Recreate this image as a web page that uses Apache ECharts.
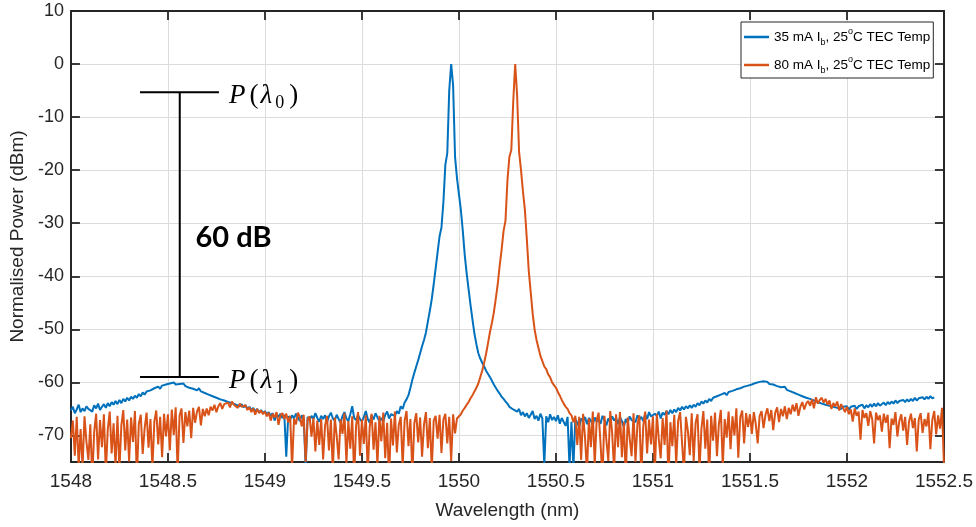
<!DOCTYPE html>
<html><head><meta charset="utf-8">
<script src="https://cdn.jsdelivr.net/npm/echarts@6/dist/echarts.min.js"></script>
<style>html,body{margin:0;padding:0;background:#fff}#c{width:976px;height:527px}</style>
</head><body><div id="c"></div>
<script>
// ---- data ----
const WL_START = 1548.00;   // nm, first sample
const WL_STEP = 0.01;       // nm, sample spacing
const seriesNames = ['35 mA I_b, 25°C TEC Temp', '80 mA I_b, 25°C TEC Temp'];
const xTickInterval = 0.5;
const yTickValues = [-70, -60, -50, -40, -30, -20, -10, 0, 10];

const power35mA = [
-65.3,-64.6,-65.8,-65.1,-64.2,-65.6,-64.9,-65.4,-64.5,-65.0,
-64.8,-65.5,-64.3,-64.9,-64.0,-65.2,-64.6,-64.1,-64.8,-63.9,
-64.5,-63.7,-64.2,-63.5,-64.1,-63.3,-63.9,-63.1,-63.6,-62.9,
-63.4,-62.7,-63.1,-62.5,-62.9,-62.2,-62.6,-61.9,-62.3,-61.7,
-62.0,-61.5,-61.8,-61.1,-61.4,-60.8,-61.2,-60.6,-60.9,-60.4,
-60.7,-60.2,-60.5,-60.0,-60.4,-60.1,-60.3,-60.6,-60.2,-60.7,
-60.5,-61.0,-60.7,-61.2,-60.9,-61.5,-61.1,-61.7,-61.4,-62.0,
-61.8,-62.3,-62.0,-62.6,-62.4,-62.9,-62.6,-63.2,-62.9,-63.4,
-63.1,-63.7,-63.4,-63.9,-63.6,-64.2,-63.9,-64.5,-64.1,-64.7,
-64.3,-65.0,-64.6,-65.2,-64.8,-65.5,-65.0,-65.7,-65.2,-65.8,
-65.4,-66.0,-65.6,-66.3,-65.8,-67.2,-66.0,-66.5,-65.9,-66.7,
-66.1,-74.0,-66.4,-67.0,-66.2,-66.8,-65.9,-66.6,-67.3,-66.2,
-66.8,-76.0,-66.5,-67.1,-66.3,-66.9,-65.8,-66.7,-67.4,-66.3,
-66.9,-66.2,-67.5,-66.4,-65.7,-66.8,-67.2,-66.1,-66.9,-67.6,
-66.3,-65.6,-66.8,-67.3,-66.0,-64.5,-66.7,-67.1,-66.2,-66.9,
-67.4,-66.5,-65.4,-66.9,-67.6,-66.2,-67.0,-65.8,-66.6,-67.3,
-66.7,-67.4,-66.1,-65.5,-66.8,-66.0,-65.7,-66.3,-65.4,-65.9,
-64.5,-65.0,-63.8,-63.2,-62.4,-61.0,-59.5,-58.2,-57.0,-55.8,
-54.5,-53.2,-52.0,-50.6,-48.5,-46.5,-44.3,-41.5,-38.5,-35.5,
-32.5,-30.8,-26.0,-19.0,-16.8,-5.0,0.0,-4.0,-17.5,-21.5,
-24.5,-27.5,-31.5,-36.0,-39.5,-42.5,-45.5,-48.2,-50.8,-52.8,
-54.5,-55.5,-56.3,-57.0,-57.8,-58.4,-59.0,-59.7,-60.4,-61.0,
-61.6,-62.1,-62.7,-63.1,-63.6,-64.0,-64.6,-64.3,-65.1,-64.8,
-65.5,-65.0,-66.2,-65.6,-66.4,-65.8,-66.7,-66.1,-65.4,-66.9,
-66.3,-67.2,-65.9,-66.8,-75.5,-66.4,-67.5,-66.0,-67.1,-66.5,
-67.3,-66.2,-67.8,-66.7,-67.0,-68.2,-66.5,-76.0,-67.4,-76.0,
-66.9,-67.6,-68.4,-66.8,-67.3,-66.5,-67.9,-66.7,-67.2,-68.0,
-66.6,-67.4,-66.9,-67.8,-66.3,-67.1,-68.1,-66.8,-67.5,-66.4,
-67.2,-66.7,-67.9,-66.5,-67.3,-68.4,-66.9,-67.6,-66.4,-67.1,
-66.8,-67.5,-66.2,-67.0,-66.5,-67.3,-66.0,-66.9,-65.6,-66.4,
-66.7,-65.9,-66.3,-65.5,-66.8,-65.7,-66.1,-65.4,-66.0,-65.2,
-65.8,-65.1,-65.6,-64.8,-65.3,-64.6,-65.1,-64.5,-64.9,-64.3,
-64.8,-64.2,-64.6,-63.9,-64.3,-63.6,-64.0,-63.4,-63.8,-63.1,
-63.5,-62.9,-63.2,-62.6,-62.9,-62.3,-62.6,-62.0,-62.4,-61.8,
-62.1,-61.6,-61.9,-61.3,-61.6,-61.1,-61.3,-60.8,-61.1,-60.6,
-60.8,-60.4,-60.6,-60.1,-60.4,-59.9,-60.2,-59.8,-60.1,-59.9,
-60.3,-60.0,-60.4,-60.2,-60.7,-60.4,-60.9,-61.1,-60.8,-61.4,
-61.2,-61.7,-61.5,-62.0,-61.8,-62.3,-62.1,-62.6,-62.4,-62.9,
-62.7,-63.1,-62.9,-63.4,-63.2,-63.7,-63.5,-64.0,-63.7,-64.2,
-63.9,-64.4,-64.1,-64.6,-64.3,-64.8,-64.5,-65.0,-64.6,-64.9,
-64.5,-65.1,-64.6,-64.9,-64.4,-65.0,-64.5,-64.8,-64.2,-64.9,
-64.3,-64.7,-64.1,-64.6,-64.0,-64.5,-63.9,-64.4,-64.1,-63.8,
-64.3,-63.7,-64.1,-63.6,-64.0,-63.4,-63.9,-63.5,-63.8,-63.3,
-63.7,-63.2,-63.6,-63.1,-63.5,-62.9,-63.4,-63.0,-63.3,-62.8,
-63.2,-62.7,-63.1,-62.6,-63.0,-62.8,null,null,null,null,
null
];

const power80mA = [
-70.5,-67.2,-73.8,-66.5,-75.9,-68.8,-76.0,-66.4,-71.2,-74.6,
-67.9,-78.0,-69.3,-65.9,-74.5,-67.1,-72.2,-66.0,-77.0,-68.8,
-65.5,-73.4,-67.7,-75.9,-66.3,-76.5,-68.1,-65.2,-72.8,-67.0,
-74.9,-66.6,-71.2,-65.4,-78.0,-67.8,-66.1,-73.5,-68.6,-65.7,
-72.3,-66.9,-76.2,-67.4,-65.3,-71.7,-66.5,-74.1,-65.9,-70.2,
-66.0,-72.8,-65.1,-69.9,-64.7,-77.0,-66.3,-64.9,-71.4,-65.6,
-68.3,-65.3,-70.5,-64.8,-67.6,-65.5,-64.6,-68.1,-65.0,-66.4,
-64.9,-66.2,-64.6,-65.3,-64.2,-65.6,-64.5,-63.9,-65.0,-64.1,
-64.4,-63.8,-64.7,-63.6,-64.2,-63.9,-64.8,-64.0,-64.6,-64.9,
-64.3,-65.2,-64.7,-65.6,-64.9,-66.1,-65.0,-65.8,-65.3,-66.0,
-65.5,-66.4,-65.7,-67.2,-65.9,-66.6,-65.6,-68.0,-66.2,-65.8,
-66.9,-65.9,-67.5,-66.3,-76.0,-66.8,-67.9,-65.7,-66.5,-68.3,
-66.1,-75.0,-67.0,-66.4,-70.2,-66.7,-73.0,-67.2,-71.8,-66.9,
-74.5,-68.1,-66.3,-72.8,-67.0,-76.8,-66.6,-70.1,-74.5,-67.0,
-69.7,-65.8,-75.2,-67.3,-72.5,-66.4,-78.0,-68.1,-65.6,-73.8,
-67.0,-71.6,-66.2,-77.0,-68.4,-65.9,-72.7,-67.5,-75.6,-66.3,
-71.1,-65.7,-74.3,-67.6,-78.5,-66.8,-71.9,-65.5,-73.2,-68.0,
-66.5,-75.8,-67.2,-65.4,-72.0,-66.9,-77.5,-67.7,-65.8,-71.3,
-66.6,-74.0,-67.9,-65.6,-72.4,-66.7,-76.5,-67.2,-66.3,-70.6,
-66.1,-73.3,-67.0,-65.9,-71.5,-66.5,-74.8,-66.0,-69.6,-66.8,
-66.5,-66.0,-65.3,-64.8,-64.2,-63.7,-63.0,-62.4,-61.7,-61.0,
-60.2,-59.0,-57.8,-56.3,-54.6,-52.6,-50.5,-48.8,-46.8,-44.2,
-41.5,-38.0,-35.0,-31.5,-29.5,-22.0,-17.5,-16.2,-7.0,0.0,
-6.0,-16.5,-20.0,-24.0,-27.5,-33.0,-39.0,-43.0,-47.0,-50.0,
-52.0,-53.5,-55.0,-56.0,-57.0,-57.5,-58.5,-59.0,-60.0,-60.5,
-61.0,-61.8,-62.5,-63.3,-64.0,-64.6,-65.0,-65.8,-66.2,-67.5,
-66.3,-71.8,-66.5,-74.6,-65.9,-70.4,-77.0,-66.8,-72.2,-65.5,
-75.5,-67.1,-65.7,-71.6,-78.0,-66.3,-70.9,-74.8,-65.4,-69.7,
-76.6,-66.0,-72.2,-65.6,-74.1,-67.4,-78.0,-66.6,-70.5,-73.9,
-65.8,-75.0,-67.9,-66.2,-77.5,-68.3,-65.5,-73.4,-67.0,-71.7,
-66.4,-76.8,-65.9,-70.6,-74.3,-66.7,-71.8,-65.3,-78.5,-67.5,
-72.0,-66.1,-75.4,-67.2,-65.6,-71.3,-77.0,-66.5,-69.1,-73.7,
-65.8,-74.9,-67.6,-66.0,-76.4,-68.7,-65.4,-72.5,-67.0,-78.0,
-66.3,-71.0,-65.7,-73.9,-67.8,-65.2,-75.8,-66.9,-70.4,-65.5,
-72.6,-66.4,-70.0,-64.9,-74.2,-66.6,-65.3,-71.5,-65.8,-68.4,
-66.0,-69.7,-65.6,-67.8,-71.5,-66.3,-65.4,-68.6,-66.1,-64.9,
-67.3,-65.2,-69.0,-65.8,-64.7,-67.5,-65.0,-66.4,-64.5,-66.9,
-64.8,-66.0,-64.2,-65.5,-63.9,-66.3,-64.6,-63.7,-65.1,-64.0,
-63.5,-64.4,-63.2,-64.9,-62.8,-64.0,-63.3,-62.9,-63.8,-63.1,
-64.2,-63.4,-65.0,-63.9,-64.5,-63.6,-65.3,-64.1,-64.8,-65.6,
-64.6,-66.0,-65.1,-67.4,-64.9,-66.3,-65.5,-70.8,-65.2,-66.7,
-65.8,-68.2,-65.4,-66.9,-71.5,-65.7,-67.1,-66.2,-69.3,-65.9,
-67.6,-66.1,-72.4,-66.8,-68.0,-65.6,-70.2,-67.3,-66.0,-69.1,
-66.5,-71.8,-67.4,-65.9,-68.6,-66.7,-73.0,-67.0,-65.8,-69.5,
-66.9,-68.3,-65.7,-72.6,-67.1,-65.4,-69.8,-66.2,-68.7,-64.8,
-75.5
];

// annotation (data coordinates)
const annotX = 1548.561;
const annotBarX = [1548.356, 1548.763];
const annotTopY = -5.3;
const annotBottomY = -59.0;
const annotLabelX = 1548.81;
const annotDbX = 1548.642;
const annotDbY = -32.8;
const annotText = '60 dB';

// ---- chart ----
const FONT = 'Liberation Sans, Arial, Helvetica, sans-serif';
const AX = '#262626';
const GRID = '#dcdcdc';
function toPairs(arr) { return arr.map((v, i) => [+(WL_START + i * WL_STEP).toFixed(2), v]); }

const chart = echarts.init(document.getElementById('c'), null, { renderer: 'canvas' });

const axisCommon = {
  axisLine: { show: true, onZero: false, lineStyle: { color: AX, width: 2 } },
  axisTick: { show: true, inside: true, length: 9, lineStyle: { color: AX, width: 1.8 } }
};

const option = {
  animation: false,
  backgroundColor: '#fff',
  grid: { left: 68, right: 31, top: 11, bottom: 65, containLabel: false },
  legend: {
    orient: 'vertical', left: 741, top: 22,
    padding: [5, 3, 3, 3], itemGap: 8, itemWidth: 25, itemHeight: 2.5, icon: 'rect',
    backgroundColor: '#fff', borderColor: AX, borderWidth: 1, borderRadius: 0,
    data: seriesNames,
    formatter: name => name.replace('I_b', 'I{sub|b}').replace('°C', '{sup|o}C'),
    textStyle: {
      fontFamily: FONT, fontSize: 13.5, color: '#000', lineHeight: 20,
      rich: {
        sub: { fontFamily: FONT, fontSize: 9, lineHeight: 9, verticalAlign: 'bottom', color: '#000' },
        sup: { fontFamily: FONT, fontSize: 9, lineHeight: 9, verticalAlign: 'top', color: '#000' }
      }
    }
  },
  xAxis: [
    Object.assign({
      type: 'value', position: 'bottom', min: WL_START, max: 1552.5, interval: xTickInterval,
      name: 'Wavelength (nm)', nameLocation: 'middle', nameGap: 39,
      nameTextStyle: { fontFamily: FONT, fontSize: 19, color: AX },
      axisLabel: { fontFamily: FONT, fontSize: 19, color: AX, margin: 10, formatter: v => String(+v.toFixed(1)) },
      splitLine: { show: true, lineStyle: { color: GRID, width: 1 } }
    }, axisCommon),
    Object.assign({
      type: 'value', position: 'top', min: WL_START, max: 1552.5, interval: xTickInterval,
      axisLabel: { show: false }, splitLine: { show: false }
    }, axisCommon)
  ],
  yAxis: [
    {
      type: 'value', position: 'left', min: -75, max: 10,
      name: 'Normalised Power (dBm)', nameLocation: 'middle', nameGap: 39,
      nameTextStyle: { fontFamily: FONT, fontSize: 19, color: AX },
      axisLine: axisCommon.axisLine,
      axisTick: Object.assign({}, axisCommon.axisTick, { customValues: yTickValues }),
      axisLabel: { customValues: yTickValues, fontFamily: FONT, fontSize: 18, color: AX, margin: 7 },
      splitLine: { show: true, lineStyle: { color: GRID, width: 1 } }
    },
    {
      type: 'value', position: 'right', min: -75, max: 10,
      axisLine: axisCommon.axisLine,
      axisTick: Object.assign({}, axisCommon.axisTick, { customValues: yTickValues }),
      axisLabel: { show: false }, splitLine: { show: false }
    }
  ],
  series: [
    {
      name: seriesNames[0], type: 'line', xAxisIndex: 0, yAxisIndex: 0,
      data: toPairs(power35mA), showSymbol: false, symbol: 'none', clip: true,
      lineStyle: { color: '#0072BD', width: 2 }, itemStyle: { color: '#0072BD' }, z: 2
    },
    {
      name: seriesNames[1], type: 'line', xAxisIndex: 0, yAxisIndex: 0,
      data: toPairs(power80mA), showSymbol: false, symbol: 'none', clip: true,
      lineStyle: { color: '#D95319', width: 2 }, itemStyle: { color: '#D95319' }, z: 3
    }
  ]
};
chart.setOption(option);

// annotation drawn at data positions converted via the chart's own scales
const px = (x, y) => chart.convertToPixel({ seriesIndex: 0 }, [x, y]);
const vTop = px(annotX, annotTopY), vBot = px(annotX, annotBottomY);
const bTL = px(annotBarX[0], annotTopY), bTR = px(annotBarX[1], annotTopY);
const bBL = px(annotBarX[0], annotBottomY), bBR = px(annotBarX[1], annotBottomY);
const l0 = px(annotLabelX, annotTopY), l1 = px(annotLabelX, annotBottomY);
const dB = px(annotDbX, annotDbY);
const lineStyle = { stroke: '#000', lineWidth: 2 };
const serif = 'Liberation Serif, DejaVu Serif, serif';
const pRich = {
  i: { fontFamily: serif, fontStyle: 'italic', fontSize: 27, fill: '#000', padding: [0, 3, 0, 1] },
  p: { fontFamily: serif, fontSize: 27, fill: '#000', padding: [0, 1, 0, 1] },
  s: { fontFamily: serif, fontSize: 18, fill: '#000', verticalAlign: 'bottom', lineHeight: 18, padding: [0, 4, 0, 0] }
};
function pLabel(pt, sub) {
  return {
    type: 'text', x: pt[0], y: pt[1] + 4, z: 10,
    style: {
      text: '{i|P}{p|(}{i|λ}{s|' + sub + '}{p|)}', rich: pRich,
      align: 'left', verticalAlign: 'middle', fill: '#000', lineHeight: 32
    }
  };
}
chart.setOption({
  graphic: [
    { type: 'line', z: 10, shape: { x1: vTop[0], y1: vTop[1], x2: vBot[0], y2: vBot[1] }, style: lineStyle },
    { type: 'line', z: 10, shape: { x1: bTL[0], y1: bTL[1], x2: bTR[0], y2: bTR[1] }, style: lineStyle },
    { type: 'line', z: 10, shape: { x1: bBL[0], y1: bBL[1], x2: bBR[0], y2: bBR[1] }, style: lineStyle },
    pLabel(l0, '0'),
    pLabel(l1, '1'),
    {
      type: 'text', x: dB[0], y: dB[1], z: 10,
      style: { text: annotText, fontFamily: 'Lato, Open Sans, sans-serif', fontWeight: 'bold', fontSize: 29, fill: '#000', align: 'left', verticalAlign: 'middle' }
    }
  ]
});
</script>
</body></html>
